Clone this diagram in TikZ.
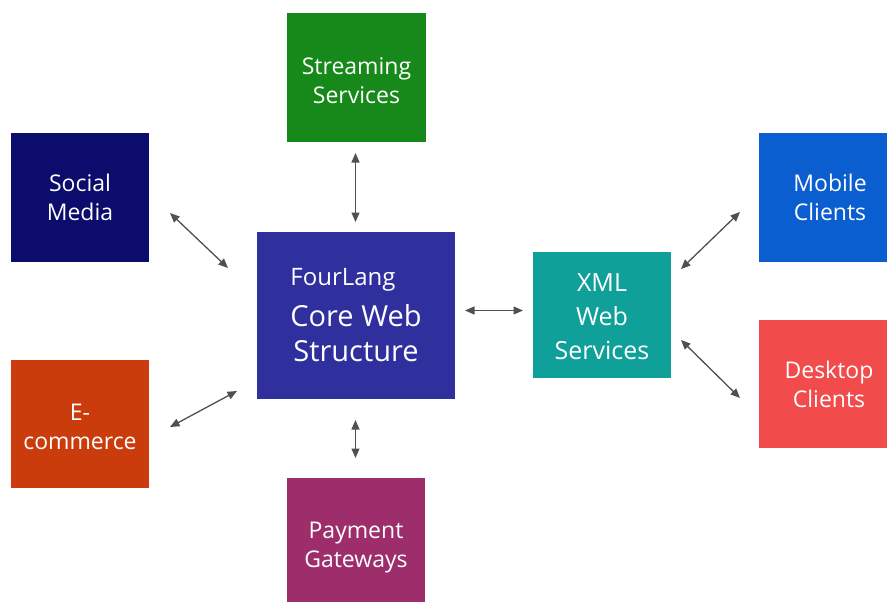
\documentclass[tikz,border=0pt]{standalone}
\usepackage{fontspec}
\setmainfont{Open Sans}
\usetikzlibrary{arrows.meta}
\definecolor{socialblue}{HTML}{0B0C6C}
\definecolor{streamgreen}{HTML}{16891A}
\definecolor{coreblue}{HTML}{2F2F9E}
\definecolor{xmlteal}{HTML}{10A09A}
\definecolor{mobileblue}{HTML}{0A5ECF}
\definecolor{desktopred}{HTML}{F24B4B}
\definecolor{ecomorange}{HTML}{CB3C0C}
\definecolor{paypurple}{HTML}{9D2E6B}
\definecolor{linkgray}{HTML}{505050}
% invisible strut that sets the height of a tile's first line
\newcommand\tophold[1]{\rule{0pt}{#1pt}}
\begin{document}
\begin{tikzpicture}[x=1pt,y=-1pt,
  tile/.style={rectangle, draw=none, inner sep=0pt, text=white, align=center,
    font=\fontsize{23}{29}\selectfont, minimum width=138pt, minimum height=129pt},
  link/.style={draw=linkgray, line width=1.3pt,
    {Triangle[length=9.5pt,width=8pt]}-{Triangle[length=9.5pt,width=8pt]}}]
\useasboundingbox (0,0) rectangle (887,602);
\clip (0,0) rectangle (887,602);

% tiles
\node[tile, fill=socialblue] (social) at (80,197) {Social\\Media};
\node[tile, fill=streamgreen, minimum width=139pt] (stream) at (356.5,77.5)
  {\tophold{23}Streaming\\Services};
\node[tile, fill=ecomorange, minimum height=128pt] (ecom) at (80,424)
  {\tophold{22.5}E-\\commerce};
\node[tile, fill=paypurple] (pay) at (356,542.5)
  {\tophold{20}Payment\\\smash{Gateways}};
\node[tile, fill=coreblue, minimum width=198pt, minimum height=167pt,
  font=\fontsize{29}{35}\selectfont] (core) at (356,315.5)
  {{\fontsize{24}{30}\selectfont FourLang\hspace*{26pt}}\\[6pt]Core Web\\Structure};
\node[tile, fill=xmlteal, minimum height=126pt,
  font=\fontsize{25}{34}\selectfont] (xml) at (602,315) {\tophold{22}XML\\Web\\Services};
\node[tile, fill=mobileblue, minimum width=142pt] (mobile) at (830,197.5) {Mobile\\Clients};
\node[tile, fill=desktopred, minimum width=140pt, minimum height=128pt] (desktop) at (829,384)
  {\tophold{19}Desktop\\Clients};

% connector end points
\coordinate (socialEnd) at (170,213);
\coordinate (coreNW) at (228,268);
\coordinate (ecomEnd) at (170,427);
\coordinate (coreSW) at (237,391);
\coordinate (streamEnd) at (355.5,153);
\coordinate (coreN) at (355.5,222);
\coordinate (coreS) at (355.5,420);
\coordinate (payEnd) at (355.5,458);
\coordinate (coreE) at (465,310.5);
\coordinate (xmlW) at (523,310.5);
\coordinate (xmlNE) at (681,269);
\coordinate (mobileEnd) at (740,212);
\coordinate (xmlSE) at (681,340);
\coordinate (desktopEnd) at (740,398);

% connectors
\draw[link] (socialEnd) -- (coreNW);
\draw[link] (ecomEnd) -- (coreSW);
\draw[link] (streamEnd) -- (coreN);
\draw[link] (coreS) -- (payEnd);
\draw[link] (coreE) -- (xmlW);
\draw[link] (xmlNE) -- (mobileEnd);
\draw[link] (xmlSE) -- (desktopEnd);
\end{tikzpicture}
\end{document}
